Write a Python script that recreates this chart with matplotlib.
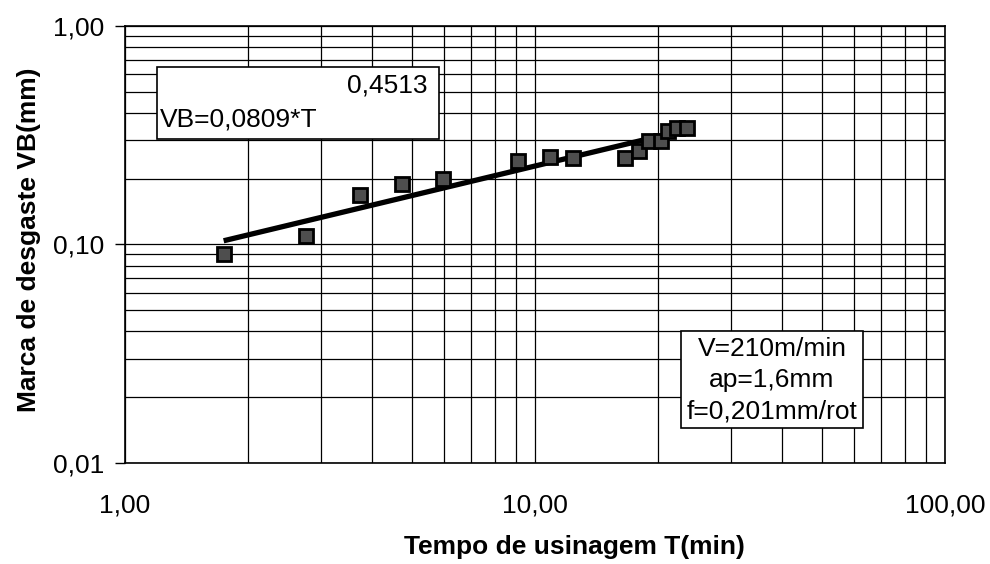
import matplotlib
matplotlib.use("Agg")
import matplotlib.pyplot as plt
from matplotlib.ticker import FixedLocator, FixedFormatter, LogLocator, NullFormatter
from matplotlib.patches import Rectangle

plt.rcParams['font.family'] = ['Liberation Sans', 'DejaVu Sans']

# measured points (tempo de usinagem x marca de desgaste)
tempo = [1.74, 2.76, 3.74, 4.74, 5.97, 9.1, 10.9, 12.4, 16.6, 17.9, 19.0, 20.3, 21.1, 22.2, 23.5]
desgaste = [0.090, 0.109, 0.169, 0.190, 0.200, 0.242, 0.252, 0.250, 0.250, 0.269, 0.298, 0.298, 0.332, 0.342, 0.342]

# power trendline end points, VB = 0,0809*T^0,4513
trend_t = [1.74, 23.5]
trend_vb = [0.104, 0.336]

x_ticks = [1, 10, 100]
x_labels = ["1,00", "10,00", "100,00"]
y_ticks = [0.01, 0.1, 1]
y_labels = ["0,01", "0,10", "1,00"]

eq_text = "VB=0,0809*T"
exp_text = "0,4513"
cond_text = "V=210m/min\nap=1,6mm\nf=0,201mm/rot"

fig = plt.figure(figsize=(9.9, 5.64), dpi=100)
ax = fig.add_axes([0.1263, 0.1791, 0.8282, 0.7748])

ax.set_xscale('log')
ax.set_yscale('log')
ax.set_xlim(1, 100)
ax.set_ylim(0.01, 1)

# grid on every decade subdivision
ax.xaxis.set_minor_locator(LogLocator(base=10, subs=range(2, 10)))
ax.yaxis.set_minor_locator(LogLocator(base=10, subs=range(2, 10)))
ax.xaxis.set_minor_formatter(NullFormatter())
ax.yaxis.set_minor_formatter(NullFormatter())
ax.grid(True, which='both', color='black', linewidth=0.9)
ax.set_axisbelow(True)

ax.xaxis.set_major_locator(FixedLocator(x_ticks))
ax.xaxis.set_major_formatter(FixedFormatter(x_labels))
ax.yaxis.set_major_locator(FixedLocator(y_ticks))
ax.yaxis.set_major_formatter(FixedFormatter(y_labels))

ax.tick_params(axis='x', which='major', length=0, pad=22, labelsize=19)
ax.tick_params(axis='y', which='major', length=7, width=1, pad=8, labelsize=19)
ax.tick_params(which='minor', length=0)

for s in ax.spines.values():
    s.set_color('black')
    s.set_linewidth(1.2)

ax.plot(trend_t, trend_vb, color='black', linewidth=3.8, solid_capstyle='butt', zorder=3)
ax.plot(tempo, desgaste, linestyle='none', marker='s', markersize=10.5,
        markerfacecolor='#4e4e4e', markeredgecolor='black', markeredgewidth=2, zorder=4)

ax.set_xlabel("Tempo de usinagem T(min)", fontsize=19, fontweight='bold')
ax.set_ylabel("Marca de desgaste VB(mm)", fontsize=19, fontweight='bold')
ax.xaxis.set_label_coords(0.548, -0.165)
ax.yaxis.set_label_coords(-0.102, 0.51)

# equation box
ax.add_patch(Rectangle((0.039, 0.741), 0.344, 0.165, transform=ax.transAxes,
                       facecolor='white', edgecolor='black', linewidth=1.2, zorder=5))
ax.text(0.043, 0.769, eq_text, transform=ax.transAxes, fontsize=19,
        ha='left', va='baseline', zorder=6)
ax.text(0.369, 0.847, exp_text, transform=ax.transAxes, fontsize=19,
        ha='right', va='baseline', zorder=6)

# cutting conditions box
ax.text(0.789, 0.190, cond_text, transform=ax.transAxes, fontsize=19,
        ha='center', va='center', linespacing=1.38, zorder=6,
        bbox=dict(boxstyle='square,pad=0.2', facecolor='white', edgecolor='black', linewidth=1.2))

fig.savefig("out.png", dpi=100)
